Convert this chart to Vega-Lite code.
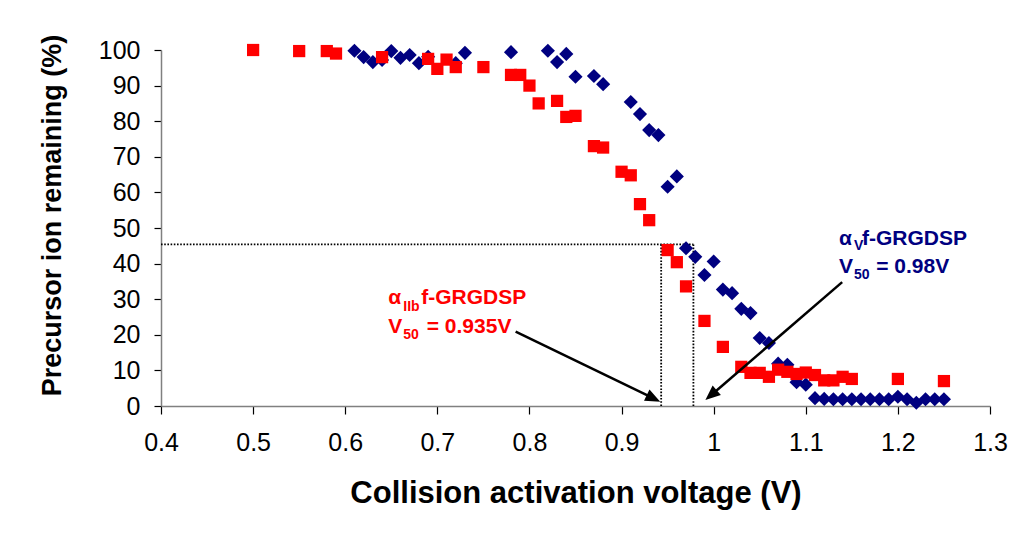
{
  "$schema": "https://vega.github.io/schema/vega-lite/v6.json",
  "width": 829,
  "height": 356,
  "autosize": {"type": "none"},
  "padding": {"left": 161, "top": 50, "right": 32, "bottom": 131},
  "background": "white",
  "config": {"font": "Liberation Sans", "view": {"stroke": null}, "axis": {"grid": false, "labelOverlap": false, "labelBound": false}},
  "datasets": {
    "points": [
      {"peptide": "aV", "voltage": 0.61, "pct": 99.8},
      {"peptide": "aV", "voltage": 0.62, "pct": 98},
      {"peptide": "aV", "voltage": 0.63, "pct": 96.6},
      {"peptide": "aV", "voltage": 0.64, "pct": 97.2},
      {"peptide": "aV", "voltage": 0.65, "pct": 99.7},
      {"peptide": "aV", "voltage": 0.66, "pct": 97.8},
      {"peptide": "aV", "voltage": 0.67, "pct": 98.6},
      {"peptide": "aV", "voltage": 0.68, "pct": 96.3},
      {"peptide": "aV", "voltage": 0.69, "pct": 98.1},
      {"peptide": "aV", "voltage": 0.72, "pct": 96.3},
      {"peptide": "aV", "voltage": 0.73, "pct": 99.2},
      {"peptide": "aV", "voltage": 0.78, "pct": 99.4},
      {"peptide": "aV", "voltage": 0.82, "pct": 99.8},
      {"peptide": "aV", "voltage": 0.83, "pct": 96.6},
      {"peptide": "aV", "voltage": 0.84, "pct": 98.9},
      {"peptide": "aV", "voltage": 0.85, "pct": 92.5},
      {"peptide": "aV", "voltage": 0.87, "pct": 92.7},
      {"peptide": "aV", "voltage": 0.88, "pct": 90.4},
      {"peptide": "aV", "voltage": 0.91, "pct": 85.4},
      {"peptide": "aV", "voltage": 0.92, "pct": 82},
      {"peptide": "aV", "voltage": 0.93, "pct": 77.5},
      {"peptide": "aV", "voltage": 0.94, "pct": 76.1},
      {"peptide": "aV", "voltage": 0.95, "pct": 61.6},
      {"peptide": "aV", "voltage": 0.96, "pct": 64.5},
      {"peptide": "aV", "voltage": 0.97, "pct": 44.3},
      {"peptide": "aV", "voltage": 0.98, "pct": 41.9},
      {"peptide": "aV", "voltage": 0.99, "pct": 36.8},
      {"peptide": "aV", "voltage": 1.0, "pct": 40.6},
      {"peptide": "aV", "voltage": 1.01, "pct": 32.7},
      {"peptide": "aV", "voltage": 1.02, "pct": 31.7},
      {"peptide": "aV", "voltage": 1.03, "pct": 27.3},
      {"peptide": "aV", "voltage": 1.04, "pct": 26.1},
      {"peptide": "aV", "voltage": 1.05, "pct": 19.1},
      {"peptide": "aV", "voltage": 1.06, "pct": 17.7},
      {"peptide": "aV", "voltage": 1.07, "pct": 11.9},
      {"peptide": "aV", "voltage": 1.08, "pct": 11.6},
      {"peptide": "aV", "voltage": 1.09, "pct": 6.7},
      {"peptide": "aV", "voltage": 1.1, "pct": 6.0},
      {"peptide": "aV", "voltage": 1.11, "pct": 2.2},
      {"peptide": "aV", "voltage": 1.12, "pct": 2.0},
      {"peptide": "aV", "voltage": 1.13, "pct": 1.9},
      {"peptide": "aV", "voltage": 1.14, "pct": 1.9},
      {"peptide": "aV", "voltage": 1.15, "pct": 1.9},
      {"peptide": "aV", "voltage": 1.16, "pct": 1.9},
      {"peptide": "aV", "voltage": 1.17, "pct": 1.9},
      {"peptide": "aV", "voltage": 1.18, "pct": 1.9},
      {"peptide": "aV", "voltage": 1.19, "pct": 1.9},
      {"peptide": "aV", "voltage": 1.2, "pct": 2.6},
      {"peptide": "aV", "voltage": 1.21, "pct": 1.9},
      {"peptide": "aV", "voltage": 1.22, "pct": 0.9},
      {"peptide": "aV", "voltage": 1.23, "pct": 1.9},
      {"peptide": "aV", "voltage": 1.24, "pct": 1.9},
      {"peptide": "aV", "voltage": 1.25, "pct": 1.9},
      {"peptide": "aIIb", "voltage": 0.5, "pct": 100},
      {"peptide": "aIIb", "voltage": 0.55, "pct": 99.7},
      {"peptide": "aIIb", "voltage": 0.58, "pct": 99.7},
      {"peptide": "aIIb", "voltage": 0.59, "pct": 99},
      {"peptide": "aIIb", "voltage": 0.64, "pct": 98},
      {"peptide": "aIIb", "voltage": 0.69, "pct": 97.5},
      {"peptide": "aIIb", "voltage": 0.7, "pct": 94.7},
      {"peptide": "aIIb", "voltage": 0.71, "pct": 97.3},
      {"peptide": "aIIb", "voltage": 0.72, "pct": 95.2},
      {"peptide": "aIIb", "voltage": 0.75, "pct": 95.2},
      {"peptide": "aIIb", "voltage": 0.78, "pct": 93},
      {"peptide": "aIIb", "voltage": 0.79, "pct": 93},
      {"peptide": "aIIb", "voltage": 0.8, "pct": 90},
      {"peptide": "aIIb", "voltage": 0.81, "pct": 85},
      {"peptide": "aIIb", "voltage": 0.83, "pct": 85.7},
      {"peptide": "aIIb", "voltage": 0.84, "pct": 81.2},
      {"peptide": "aIIb", "voltage": 0.85, "pct": 81.5},
      {"peptide": "aIIb", "voltage": 0.87, "pct": 73},
      {"peptide": "aIIb", "voltage": 0.88, "pct": 72.6},
      {"peptide": "aIIb", "voltage": 0.9, "pct": 65.8},
      {"peptide": "aIIb", "voltage": 0.91, "pct": 64.8},
      {"peptide": "aIIb", "voltage": 0.92, "pct": 56.7},
      {"peptide": "aIIb", "voltage": 0.93, "pct": 52.2},
      {"peptide": "aIIb", "voltage": 0.95, "pct": 43.8},
      {"peptide": "aIIb", "voltage": 0.96, "pct": 40.4},
      {"peptide": "aIIb", "voltage": 0.97, "pct": 33.6},
      {"peptide": "aIIb", "voltage": 0.99, "pct": 23.9},
      {"peptide": "aIIb", "voltage": 1.01, "pct": 16.6},
      {"peptide": "aIIb", "voltage": 1.03, "pct": 11},
      {"peptide": "aIIb", "voltage": 1.04, "pct": 9.3},
      {"peptide": "aIIb", "voltage": 1.05, "pct": 9.3},
      {"peptide": "aIIb", "voltage": 1.06, "pct": 8.2},
      {"peptide": "aIIb", "voltage": 1.07, "pct": 10.2},
      {"peptide": "aIIb", "voltage": 1.08, "pct": 9.6},
      {"peptide": "aIIb", "voltage": 1.09, "pct": 9.0},
      {"peptide": "aIIb", "voltage": 1.1, "pct": 9.4},
      {"peptide": "aIIb", "voltage": 1.11, "pct": 8.7},
      {"peptide": "aIIb", "voltage": 1.12, "pct": 7.2},
      {"peptide": "aIIb", "voltage": 1.13, "pct": 7.2},
      {"peptide": "aIIb", "voltage": 1.14, "pct": 8.2},
      {"peptide": "aIIb", "voltage": 1.15, "pct": 7.6},
      {"peptide": "aIIb", "voltage": 1.2, "pct": 7.6},
      {"peptide": "aIIb", "voltage": 1.25, "pct": 7.0}
    ],
    "guides": [
      {"x": 0.4, "x2": 0.978, "y": 45.4, "y2": 45.4},
      {"x": 0.943, "x2": 0.943, "y": 0, "y2": 45.4},
      {"x": 0.978, "x2": 0.978, "y": 0, "y2": 45.4}
    ],
    "arrows": [
      {"x": 0.785, "y": 20.9, "x2": 0.9343, "y2": 2.2},
      {"x": 1.1395, "y": 34.8, "x2": 0.9975, "y2": 3.1}
    ],
    "tipL": [{"x": 0.942, "y": 1.2}],
    "tipR": [{"x": 0.991, "y": 1.7}],
    "labels": [
      {"peptide": "aIIb", "part": "main", "text": "α", "x": 0.6467, "y": 28.65},
      {"peptide": "aIIb", "part": "sub", "text": "IIb", "x": 0.663, "y": 26.7},
      {"peptide": "aIIb", "part": "main", "text": "f-GRGDSP", "x": 0.6825, "y": 28.65},
      {"peptide": "aIIb", "part": "main", "text": "V", "x": 0.6467, "y": 20.5},
      {"peptide": "aIIb", "part": "sub", "text": "50", "x": 0.663, "y": 18.8},
      {"peptide": "aIIb", "part": "main", "text": "= 0.935V", "x": 0.6885, "y": 20.5},
      {"peptide": "aV", "part": "main", "text": "α", "x": 1.1361, "y": 45.2},
      {"peptide": "aV", "part": "sub", "text": "V", "x": 1.1523, "y": 43.8},
      {"peptide": "aV", "part": "main", "text": "f-GRGDSP", "x": 1.161, "y": 45.2},
      {"peptide": "aV", "part": "main", "text": "V", "x": 1.1361, "y": 37.4},
      {"peptide": "aV", "part": "sub", "text": "50", "x": 1.1523, "y": 35.7},
      {"peptide": "aV", "part": "main", "text": "= 0.98V", "x": 1.1765, "y": 37.4}
    ]
  },
  "layer": [
    {
      "data": {"name": "guides"},
      "mark": {"type": "rule", "color": "#000000", "strokeWidth": 1.8, "strokeDash": [1.6, 1.6]},
      "encoding": {
        "x": {"field": "x", "type": "quantitative", "scale": {"domain": [0.4, 1.3], "nice": false, "zero": false},
          "axis": {"title": "Collision activation voltage (V)", "values": [0.4, 0.5, 0.6, 0.7, 0.8, 0.9, 1.0, 1.1, 1.2, 1.3], "format": ".1~f",
            "labelFontSize": 25, "labelColor": "#000", "labelFlush": false, "labelOverlap": false, "labelPadding": 16,
            "tickSize": 8, "tickColor": "#000", "tickWidth": 1.2, "domainColor": "#808080", "domainWidth": 1.5,
            "titleFontSize": 31, "titleFontWeight": "bold", "titleColor": "#000", "titlePadding": 23}},
        "x2": {"field": "x2"},
        "y": {"field": "y", "type": "quantitative", "scale": {"domain": [0, 100], "nice": false},
          "axis": {"title": "Precursor ion remaining (%)", "values": [0, 10, 20, 30, 40, 50, 60, 70, 80, 90, 100], "tickCount": 11,
            "labelFontSize": 25, "labelColor": "#000", "labelOverlap": false, "labelPadding": 14,
            "tickSize": 7, "tickColor": "#000", "tickWidth": 1.2, "domainColor": "#808080", "domainWidth": 1.5,
            "titleFontSize": 27, "titleFontWeight": "bold", "titleColor": "#000", "titlePadding": 32, "titleY": 165}},
        "y2": {"field": "y2"}
      }
    },
    {
      "data": {"name": "points"},
      "transform": [{"filter": "datum.peptide === 'aV'"}],
      "mark": {"type": "point", "shape": "diamond", "filled": true, "size": 200, "color": "#000080", "opacity": 1},
      "encoding": {
        "x": {"field": "voltage", "type": "quantitative"},
        "y": {"field": "pct", "type": "quantitative"}
      }
    },
    {
      "data": {"name": "points"},
      "transform": [{"filter": "datum.peptide === 'aIIb'"}],
      "mark": {"type": "point", "shape": "square", "filled": true, "size": 150, "color": "#FF0000", "opacity": 1},
      "encoding": {
        "x": {"field": "voltage", "type": "quantitative"},
        "y": {"field": "pct", "type": "quantitative"}
      }
    },
    {
      "data": {"name": "arrows"},
      "mark": {"type": "rule", "color": "#000000", "strokeWidth": 2.5},
      "encoding": {
        "x": {"field": "x", "type": "quantitative"},
        "y": {"field": "y", "type": "quantitative"},
        "x2": {"field": "x2"},
        "y2": {"field": "y2"}
      }
    },
    {
      "data": {"name": "tipL"},
      "mark": {"type": "point", "shape": "M0,0L-0.42,1L0.42,1Z", "filled": true, "size": 900, "color": "#000000", "opacity": 1, "angle": 115.8},
      "encoding": {
        "x": {"field": "x", "type": "quantitative"},
        "y": {"field": "y", "type": "quantitative"}
      }
    },
    {
      "data": {"name": "tipR"},
      "mark": {"type": "point", "shape": "M0,0L-0.42,1L0.42,1Z", "filled": true, "size": 900, "color": "#000000", "opacity": 1, "angle": 229.2},
      "encoding": {
        "x": {"field": "x", "type": "quantitative"},
        "y": {"field": "y", "type": "quantitative"}
      }
    },
    {
      "data": {"name": "labels"},
      "transform": [{"filter": "datum.part === 'main'"}],
      "mark": {"type": "text", "align": "left", "baseline": "alphabetic", "fontSize": 21, "fontWeight": "bold"},
      "encoding": {
        "x": {"field": "x", "type": "quantitative"},
        "y": {"field": "y", "type": "quantitative"},
        "text": {"field": "text"},
        "color": {"field": "peptide", "type": "nominal", "scale": {"domain": ["aIIb", "aV"], "range": ["#FF0000", "#000080"]}, "legend": null}
      }
    },
    {
      "data": {"name": "labels"},
      "transform": [{"filter": "datum.part === 'sub'"}],
      "mark": {"type": "text", "align": "left", "baseline": "alphabetic", "fontSize": 14, "fontWeight": "bold"},
      "encoding": {
        "x": {"field": "x", "type": "quantitative"},
        "y": {"field": "y", "type": "quantitative"},
        "text": {"field": "text"},
        "color": {"field": "peptide", "type": "nominal", "scale": {"domain": ["aIIb", "aV"], "range": ["#FF0000", "#000080"]}, "legend": null}
      }
    }
  ]
}
